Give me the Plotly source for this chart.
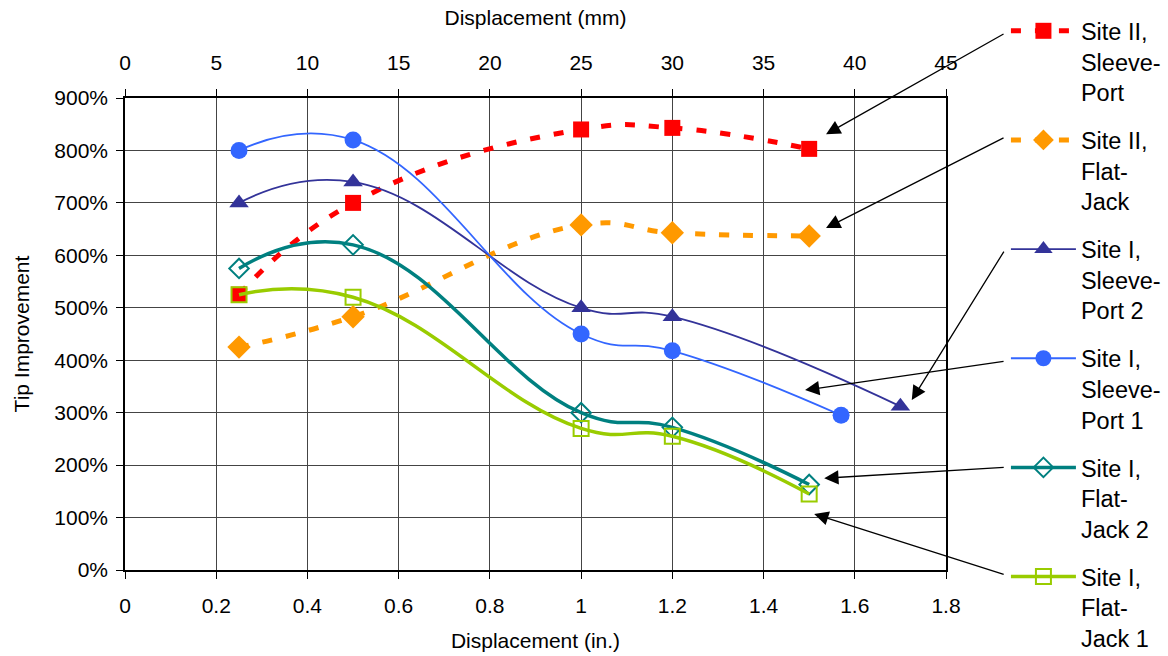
import plotly.graph_objects as go

# ---- data (x in inches, y in %) ----
x_s2_sp = [0.25, 0.5, 1.0, 1.2, 1.5]
y_s2_sp = [525, 700, 840, 843, 803]

x_s2_fj = [0.25, 0.5, 1.0, 1.2, 1.5]
y_s2_fj = [425, 483, 658, 643, 637]

x_s1_sp2 = [0.25, 0.5, 1.0, 1.2, 1.7]
y_s1_sp2 = [700, 740, 500, 483, 312]

x_s1_sp1 = [0.25, 0.5, 1.0, 1.2, 1.57]
y_s1_sp1 = [800, 820, 450, 418, 295]

x_s1_fj2 = [0.25, 0.5, 1.0, 1.2, 1.5]
y_s1_fj2 = [575, 620, 300, 272, 163]

x_s1_fj1 = [0.25, 0.5, 1.0, 1.2, 1.5]
y_s1_fj1 = [525, 520, 270, 255, 145]

names = ["Site II,<br>Sleeve-<br>Port", "Site II,<br>Flat-<br>Jack",
         "Site I,<br>Sleeve-<br>Port 2", "Site I,<br>Sleeve-<br>Port 1",
         "Site I,<br>Flat-<br>Jack 2", "Site I,<br>Flat-<br>Jack 1"]

x_ticks_mm = [0, 5, 10, 15, 20, 25, 30, 35, 40, 45]
MM_PER_IN = 25.4

FONT = "Arial, Liberation Sans, sans-serif"
FS = 21

fig = go.Figure()

def add(x, y, name, color, width, dash, symbol, size, fill=True, grp=""):
    mk = dict(symbol=symbol, size=size, color=color)
    if not fill:
        mk = dict(symbol=symbol + "-open", size=size, color=color, line=dict(width=2, color=color))
    fig.add_trace(go.Scatter(
        x=x, y=y, name=name, mode="lines+markers",
        line=dict(color=color, width=width, dash=dash, shape="spline", smoothing=1.3),
        marker=mk, legendgroup=grp))

add(x_s2_sp, y_s2_sp, names[0], "#FF0000", 5, "10px,14px", "square", 16, grp="a")
add(x_s2_fj, y_s2_fj, names[1], "#FF9900", 5, "10px,14px", "diamond", 18, grp="b")
add(x_s1_sp2, y_s1_sp2, names[2], "#333399", 1.8, "solid", "triangle-up", 17, grp="c")
add(x_s1_sp1, y_s1_sp1, names[3], "#3366FF", 1.8, "solid", "circle", 17, grp="d")
add(x_s1_fj2, y_s1_fj2, names[4], "#008080", 3.5, "solid", "diamond", 15, fill=False, grp="e")
add(x_s1_fj1, y_s1_fj1, names[5], "#99CC00", 3.5, "solid", "square", 15, fill=False, grp="f")

# invisible trace for the mm (top) axis
fig.add_trace(go.Scatter(x=[v * MM_PER_IN for v in x_s2_sp], y=y_s2_sp, xaxis="x2",
                         mode="markers", marker=dict(opacity=0), showlegend=False,
                         hoverinfo="skip"))

# arrows from legend to curves: head in data coords, tail offset in px
arrows = [
    (1.537, 831, 179, -101),
    (1.537, 652, 179, -91),
    (1.725, 324, 93, -150),
    (1.491, 343, 200, -29),
    (1.533, 175, 181, -11),
    (1.511, 107, 191, 61),
]
for hx, hy, ax, ay in arrows:
    fig.add_annotation(x=hx, y=hy, xref="x", yref="y", ax=ax, ay=ay,
                       axref="pixel", ayref="pixel", text="", showarrow=True,
                       arrowhead=2, arrowsize=2.2, arrowwidth=1.3, arrowcolor="black",
                       standoff=0, startstandoff=0)

axis_font = dict(family=FONT, size=FS, color="black")
fig.update_layout(
    width=1168, height=656,
    margin=dict(l=125, r=222, t=98, b=86, autoexpand=False),
    paper_bgcolor="white", plot_bgcolor="white",
    font=dict(family=FONT, size=FS, color="black"),
    xaxis=dict(range=[0, 1.8], dtick=0.2, tick0=0, showgrid=True, gridcolor="#444444",
               gridwidth=1, showline=True, linecolor="black", linewidth=1.5,
               ticks="outside", ticklen=7, tickcolor="black", tickfont=axis_font,
               ticklabelstandoff=9,
               title=dict(text="Displacement (in.)", font=axis_font, standoff=17),
               zeroline=False),
    xaxis2=dict(range=[0, 45], tickvals=x_ticks_mm, overlaying="x", side="top",
                showgrid=False, showline=True, linecolor="black", linewidth=1.5,
                ticks="outside", ticklen=7, tickcolor="black", tickfont=axis_font,
                ticklabelstandoff=11,
                title=dict(text="Displacement (mm)", font=axis_font, standoff=19),
                zeroline=False, anchor="y"),
    yaxis=dict(range=[0, 900], dtick=100, ticksuffix="%", showgrid=True,
               gridcolor="#444444", gridwidth=1, showline=True, linecolor="black",
               linewidth=1.5, mirror=True, ticks="outside", ticklen=7, tickcolor="black",
               tickfont=axis_font, zeroline=False, ticklabelstandoff=4,
               title=dict(text="Tip Improvement", font=axis_font, standoff=19)),
    legend=dict(x=1.073, y=1.1885, xanchor="left", yanchor="top",
                font=dict(family=FONT, size=23.5, color="black"),
                tracegroupgap=14.5, valign="top", itemwidth=65, maxheight=800,
                bgcolor="rgba(0,0,0,0)"),
    showlegend=True,
)

fig.write_html("out.html")
